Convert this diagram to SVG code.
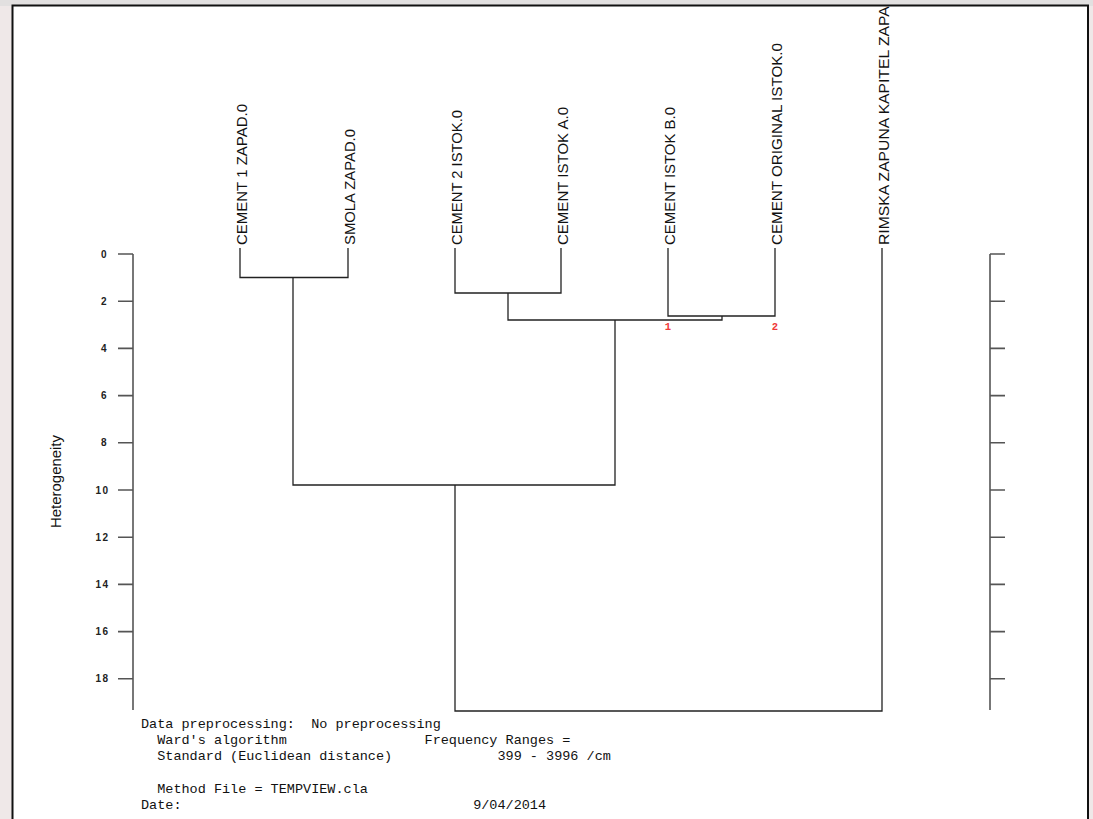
<svg xmlns="http://www.w3.org/2000/svg" width="1093" height="819" viewBox="0 0 1093 819">
<defs>
<style>
.leaf{font-family:"Liberation Sans",Arial,sans-serif;font-size:14px;fill:#111}
.tick{font-family:"Liberation Sans",Arial,sans-serif;font-size:10px;font-weight:bold;fill:#222;letter-spacing:1.5px;text-anchor:end}
.info{font-family:"Liberation Mono","Courier New",monospace;font-size:13.5px;fill:#111;white-space:pre}
.lnk{stroke:#222;stroke-width:1.3;fill:none}
.ax{stroke:#555;stroke-width:1.6;fill:none}
.num{font-family:"Liberation Mono",monospace;font-size:10.5px;font-weight:bold;fill:#f03838;text-anchor:middle}
</style>
<clipPath id="frameClip"><rect x="13.5" y="6.5" width="1073" height="813"/></clipPath>
</defs>
<rect x="0" y="0" width="1093" height="819" fill="#efe8e8"/>
<rect x="0" y="0" width="1093" height="6" fill="#e2e0e0"/>
<rect x="12.5" y="5.5" width="1075.5" height="830" fill="#ffffff" stroke="#111" stroke-width="2"/>

<g id="axis-left">
<line class="ax" x1="133" y1="254" x2="133" y2="710"/>
<path class="ax" d="M118 254H133M118 301.2H133M118 348.4H133M118 395.6H133M118 442.8H133M118 490H133M118 537.2H133M118 584.4H133M118 631.6H133M118 678.8H133"/>
<text class="tick" x="108" y="258">0</text>
<text class="tick" x="108" y="305">2</text>
<text class="tick" x="108" y="352">4</text>
<text class="tick" x="108" y="399">6</text>
<text class="tick" x="108" y="446">8</text>
<text class="tick" x="109.5" y="494">10</text>
<text class="tick" x="109.5" y="541">12</text>
<text class="tick" x="109.5" y="588">14</text>
<text class="tick" x="109.5" y="635">16</text>
<text class="tick" x="109.5" y="682">18</text>
<text class="leaf" font-size="13" transform="translate(61,528) rotate(-90)" textLength="93" lengthAdjust="spacingAndGlyphs">Heterogeneity</text>
</g>

<g id="axis-right">
<line class="ax" x1="990" y1="254" x2="990" y2="710"/>
<path class="ax" d="M990 254H1005M990 301.2H1005M990 348.4H1005M990 395.6H1005M990 442.8H1005M990 490H1005M990 537.2H1005M990 584.4H1005M990 631.6H1005M990 678.8H1005"/>
</g>

<g id="leaf-cement1-zapad"><text class="leaf" transform="translate(246.5,245) rotate(-90)" textLength="141" lengthAdjust="spacingAndGlyphs">CEMENT 1 ZAPAD.0</text></g>
<g id="leaf-smola-zapad"><text class="leaf" transform="translate(354.5,245) rotate(-90)" textLength="116" lengthAdjust="spacingAndGlyphs">SMOLA ZAPAD.0</text></g>
<g id="leaf-cement2-istok"><text class="leaf" transform="translate(461.5,245) rotate(-90)" textLength="135" lengthAdjust="spacingAndGlyphs">CEMENT 2 ISTOK.0</text></g>
<g id="leaf-cement-istok-a"><text class="leaf" transform="translate(567.5,245) rotate(-90)" textLength="138" lengthAdjust="spacingAndGlyphs">CEMENT ISTOK A.0</text></g>
<g id="leaf-cement-istok-b"><text class="leaf" transform="translate(674.5,245) rotate(-90)" textLength="138" lengthAdjust="spacingAndGlyphs">CEMENT ISTOK B.0</text></g>
<g id="leaf-cement-original-istok"><text class="leaf" transform="translate(781.5,245) rotate(-90)" textLength="202" lengthAdjust="spacingAndGlyphs">CEMENT ORIGINAL ISTOK.0</text></g>
<g id="leaf-rimska" clip-path="url(#frameClip)"><text class="leaf" transform="translate(888.5,245) rotate(-90)" textLength="250" lengthAdjust="spacingAndGlyphs">RIMSKA ZAPUNA KAPITEL ZAPAD</text></g>

<g id="connectors">
<path class="lnk" d="M240 248V277.5H348V248"/>
<path class="lnk" d="M455 248V293H561V248"/>
<path class="lnk" d="M668 248V316H775V248"/>
<path class="lnk" d="M722 316V320H508V293"/>
<path class="lnk" d="M615 320V485H293V277.5"/>
<path class="lnk" d="M455 485V711H882V248"/>
</g>

<g id="marks">
<text class="num" x="668" y="330">1</text>
<text class="num" x="775" y="330">2</text>
</g>

<g id="info">
<text class="info" x="141" y="727.5">Data preprocessing:  No preprocessing</text>
<text class="info" x="141" y="744">  Ward's algorithm                 Frequency Ranges =</text>
<text class="info" x="141" y="760">  Standard (Euclidean distance)             399 - 3996 /cm</text>
<text class="info" x="141" y="793">  Method File = TEMPVIEW.cla</text>
<text class="info" x="141" y="809">Date:                                    9/04/2014</text>
</g>
</svg>
